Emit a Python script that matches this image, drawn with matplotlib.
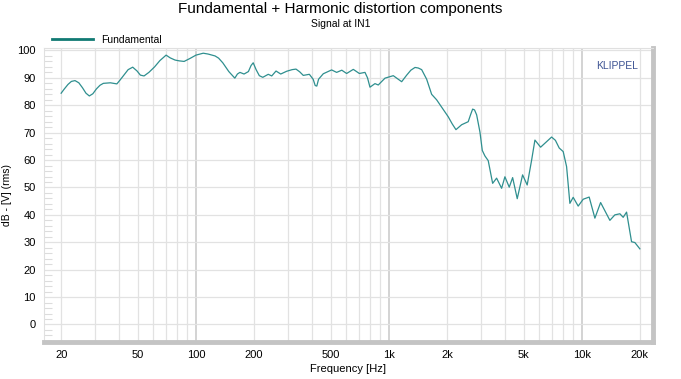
import matplotlib.pyplot as plt
from matplotlib.ticker import FixedLocator, NullFormatter

plt.rcParams['font.family'] = ['Liberation Sans', 'DejaVu Sans']

# values
freq_hz = [20, 20.8, 21.7, 22.6, 23.6, 24.7, 25.8, 26.9, 28.0, 29.2, 30.5, 31.8,
           33.1, 36.0, 38.9, 40.4, 42.5, 44.5, 47.0, 49.5, 51.5, 53.8,
           57, 61, 65, 70.0, 73.5, 77.9, 82, 86.8, 93.2, 100, 109, 115.5, 125.6,
           131, 137.7, 148, 159, 164, 169,
           177.5, 187, 193, 198, 205, 213, 222, 237, 247, 260, 275, 295, 315, 330,
           345, 360, 387, 405, 415, 423, 432, 457, 505, 536, 570, 604, 654, 703,
           752, 775, 798, 847, 881, 955, 1054,
           1165, 1237, 1300, 1366, 1420, 1479, 1570, 1666, 1768, 1900, 2031, 2130,
           2227, 2384, 2578, 2650, 2718, 2780, 2851, 2966, 3050, 3147, 3273, 3451,
           3618, 3841, 3995, 4207, 4381, 4628, 4934, 5212, 5496, 5716, 6118, 6572,
           6976, 7300, 7638, 8010, 8342, 8676, 9024, 9580, 10170, 10924, 11694,
           12520, 13986, 14844, 15760, 16392, 17068, 18114, 18844, 20000]
level_db = [84.4, 86.0, 87.6, 88.7, 89.0, 88.2, 86.4, 84.4, 83.4, 84.2, 86.0, 87.3,
            88.0, 88.2, 87.8, 89.2, 91.2, 93.0, 93.9, 92.5, 91.0, 90.7,
            92.0, 94.0, 96.3, 98.3, 97.3, 96.5, 96.2, 96.0, 97.1, 98.3, 99.0, 98.7, 98.0,
            97.2, 95.5, 92.3, 89.9, 91.4, 92.0,
            91.4, 92.3, 94.5, 95.5, 93.0, 90.8, 90.2, 91.3, 90.7, 92.5, 91.4, 92.4, 93.0,
            93.2, 92.2, 90.9, 91.3, 89.5, 87.2, 87.0, 89.5, 91.5, 92.9, 92.0, 92.8, 91.6,
            93.1, 91.6, 92.0, 90.0, 86.6, 87.9, 87.4, 89.9, 90.8,
            88.6, 91.0, 92.8, 93.8, 93.6, 93.0, 89.5, 84.0, 82.0, 78.8, 75.8, 73.2,
            71.1, 72.9, 74.0, 76.5, 78.6, 78.3, 76.5, 70.2, 63.5, 61.5, 59.8, 51.5,
            53.4, 49.7, 53.9, 50.1, 53.6, 45.9, 54.6, 50.9, 60.0, 67.3, 64.7, 66.7,
            68.4, 67.2, 64.4, 63.1, 57.6, 44.2, 46.4, 43.2, 45.7, 46.5, 38.8,
            44.5, 38.0, 40.0, 40.4, 39.1, 41.0, 30.2, 29.9, 27.6]

major_x = [20, 50, 100, 200, 500, 1000, 2000, 5000, 10000, 20000]
major_x_labels = ['20', '50', '100', '200', '500', '1k', '2k', '5k', '10k', '20k']
grid_x = [20, 30, 40, 50, 60, 70, 80, 90,
          200, 300, 400, 500, 600, 700, 800, 900,
          2000, 3000, 4000, 5000, 6000, 7000, 8000, 9000, 20000]
decades = [100, 1000, 10000]
y_ticks = list(range(0, 101, 10))

fig = plt.figure(figsize=(6.81, 3.79), dpi=100)
ax = fig.add_axes([44 / 681, 1 - 342 / 379, (653 - 44) / 681, (342 - 48) / 379])

for f in grid_x:
    ax.axvline(f, color='#e2e2e2', lw=0.9, zorder=0)
for f in decades:
    ax.axvline(f, color='#c8c8c8', lw=1.1, zorder=0)
for y in y_ticks:
    ax.axhline(y, color='#e2e2e2', lw=0.9, zorder=0)

ax.plot(freq_hz, level_db, color='#2f8f8f', lw=0.9, label='Fundamental', zorder=3)

ax.set_xscale('log')
ax.set_xlim(16.3, 23400)
ax.set_ylim(-6.4, 100.9)

ax.xaxis.set_major_locator(FixedLocator(major_x))
ax.set_xticklabels(major_x_labels)
ax.xaxis.set_minor_formatter(NullFormatter())
ax.tick_params(axis='x', which='both', length=0, pad=6, labelsize=8)
ax.set_yticks(y_ticks)
ax.yaxis.set_minor_locator(FixedLocator([v for v in range(-6, 101, 2) if v % 10]))
ax.tick_params(axis='y', which='major', length=0, pad=6, labelsize=8)
ax.tick_params(axis='y', which='minor', direction='in', length=6, width=0.8,
               color='#dcdcdc', pad=8)

for side in ['left', 'top']:
    ax.spines[side].set_color('#e0e0e0')
    ax.spines[side].set_linewidth(0.8)
for side in ['right', 'bottom']:
    ax.spines[side].set_color('#c4c4c4')
    ax.spines[side].set_linewidth(3.5)

ax.set_xlabel('Frequency [Hz]', fontsize=8, labelpad=3)
ax.set_ylabel('dB - [V] (rms)', fontsize=7.5, labelpad=4)

ax.text(0.975, 0.955, 'KLIPPEL', transform=ax.transAxes, ha='right', va='top',
        fontsize=7.5, color='#3d5393')

fig.text(0.5, 1 - 9 / 379, 'Fundamental + Harmonic distortion components',
         ha='center', va='center', fontsize=11)
fig.text(0.5, 1 - 24 / 379, 'Signal at IN1', ha='center', va='center', fontsize=7.5)

leg = ax.legend(loc='lower left', bbox_to_anchor=(0.008, 1.0), frameon=False,
                fontsize=7.5, handlelength=3.9, handletextpad=0.8,
                borderaxespad=0.1, borderpad=0.2)
leg.get_lines()[0].set_linewidth(2.0)
leg.get_lines()[0].set_color('#117a73')

fig.savefig('out.png', dpi=100)
